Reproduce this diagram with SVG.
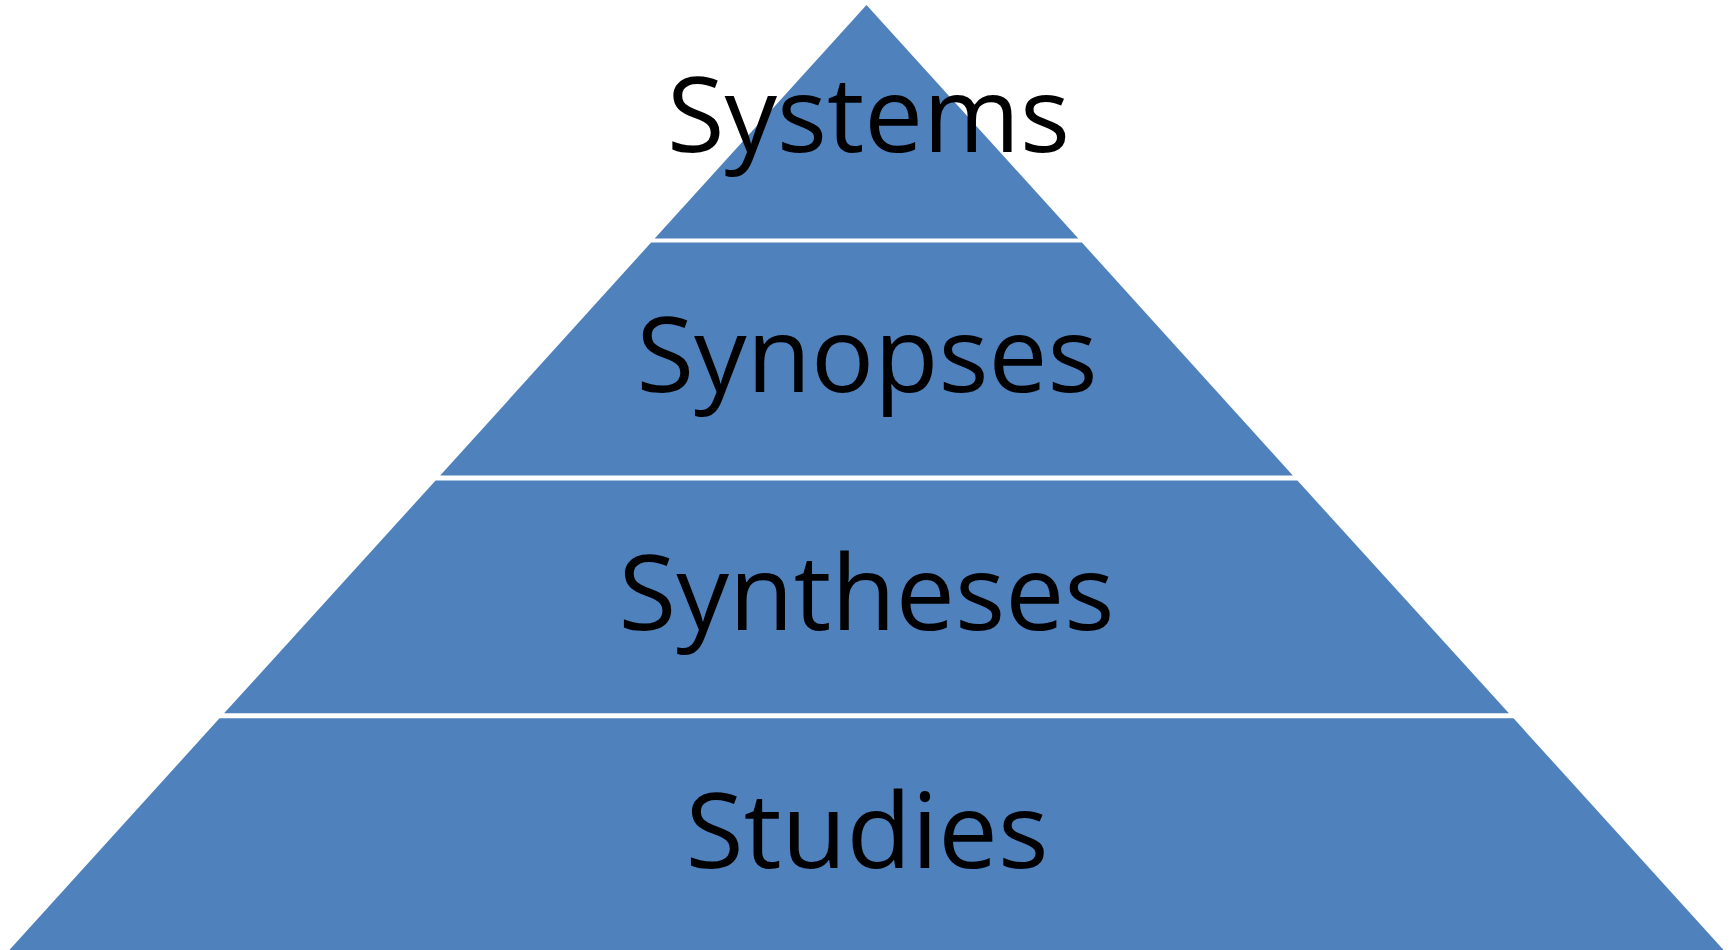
<svg xmlns="http://www.w3.org/2000/svg" width="1731" height="950" viewBox="0 0 1731 950">
  <style>
    .tier { fill: #4F81BD; }
    .lbl { font-family: "Open Sans", "Liberation Sans", sans-serif; font-size: 104px; fill: #000000; text-anchor: middle; }
  </style>
  <rect x="0" y="0" width="1731" height="950" fill="#FFFFFF"/>
  <g id="connectors"></g>
  <g id="tier-systems">
    <polygon class="tier" points="866.5,5 1078.3,238.5 654.7,238.5"/>
    <text class="lbl" x="868.5" y="152" textLength="403" lengthAdjust="spacingAndGlyphs">Systems</text>
  </g>
  <g id="tier-synopses">
    <polygon class="tier" points="651.1,242.5 1081.9,242.5 1292.8,475.5 440.2,475.5"/>
    <text class="lbl" x="867" y="392" textLength="461" lengthAdjust="spacingAndGlyphs">Synopses</text>
  </g>
  <g id="tier-syntheses">
    <polygon class="tier" points="435.6,480.5 1297.4,480.5 1508.9,713.3 224.1,713.3"/>
    <text class="lbl" x="866.5" y="630" textLength="496" lengthAdjust="spacingAndGlyphs">Syntheses</text>
  </g>
  <g id="tier-studies">
    <polygon class="tier" points="219.5,718.3 1513.5,718.3 1723.6,950 9.4,950"/>
    <text class="lbl" x="867" y="868" textLength="363" lengthAdjust="spacingAndGlyphs">Studies</text>
  </g>
</svg>
